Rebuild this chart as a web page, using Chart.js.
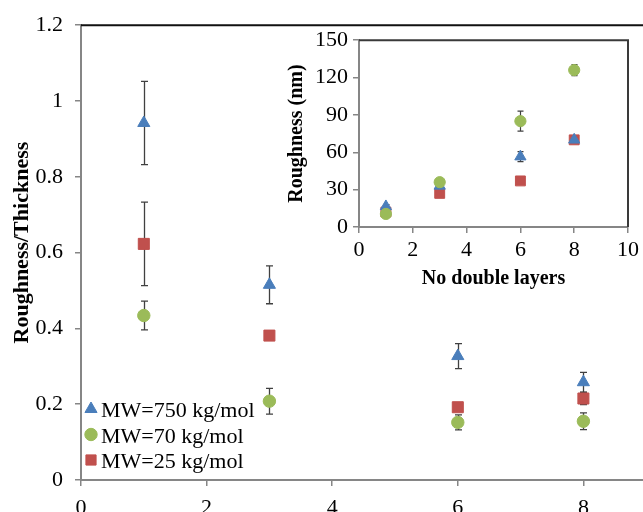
<!DOCTYPE html>
<html><head><meta charset="utf-8">
<script src="https://cdn.jsdelivr.net/npm/chart.js@4"></script>
<style>
html,body{margin:0;padding:0;overflow:hidden;background:#fff;width:643px;height:512px;}
#main{position:absolute;left:0;top:0;width:760px;height:560px;}
#inset{position:absolute;left:285px;top:22px;width:358px;height:280px;}
</style></head><body>
<canvas id="main" width="760" height="560"></canvas>
<canvas id="inset" width="358" height="280"></canvas>
<script>
// ---------- data ----------
const layers = [1, 3, 6, 8];
const seriesLabels = ['MW=750 kg/mol', 'MW=70 kg/mol', 'MW=25 kg/mol'];

// main chart: roughness / thickness
const ratio750 = [0.942, 0.515, 0.327, 0.258];
const ratioErr750 = [0.11, 0.05, 0.033, 0.026];
const ratio70 = [0.434, 0.208, 0.152, 0.155];
const ratioErr70 = [0.038, 0.034, 0.02, 0.022];
const ratio25 = [0.623, 0.381, 0.192, 0.215];
const ratioErr25 = [0.11, 0.006, 0.006, 0.016];

// inset: roughness (nm)
const rough750 = [16.5, 33, 56.5, 70];
const roughErr750 = [1.5, 2, 4, 1.5];
const rough70 = [10.5, 36, 85, 126];
const roughErr70 = [1, 1.5, 8, 4.5];
const rough25 = [12, 27, 37, 70];
const roughErr25 = [1, 1.5, 1.5, 1];

// tick labels
const mainXTicks = [0, 2, 4, 6, 8, 10];
const mainYTicks = [0, 0.2, 0.4, 0.6, 0.8, 1, 1.2];
const insetXTicks = [0, 2, 4, 6, 8, 10];
const insetYTicks = [0, 30, 60, 90, 120, 150];

// ---------- styles ----------
const SERIF = "'Liberation Serif', 'Times New Roman', serif";
const BLUE = '#4a7ebb', GREEN = '#9bbb59', RED = '#c0504d';
const styles = [
  {pointStyle: 'triangle', color: BLUE, order: 1},
  {pointStyle: 'circle', color: GREEN, order: 0},
  {pointStyle: 'rect', color: RED, order: 2}
];

function pts(ys) { return layers.map((x, i) => ({x: x, y: ys[i]})); }

function makeDatasets(valsList, errList, radii) {
  return valsList.map((vals, k) => ({
    label: seriesLabels[k],
    data: pts(vals),
    errors: errList[k],
    pointStyle: styles[k].pointStyle,
    backgroundColor: styles[k].color,
    borderColor: styles[k].color,
    borderWidth: 1,
    pointRadius: radii[k],
    pointHoverRadius: radii[k],
    order: styles[k].order,
    showLine: false
  }));
}

const errorBarPlugin = {
  id: 'errorBars',
  beforeDatasetsDraw(chart, args, opts) {
    const ctx = chart.ctx, ys = chart.scales.y;
    ctx.save();
    ctx.strokeStyle = opts.color || '#404040';
    ctx.lineWidth = opts.width || 1.3;
    chart.data.datasets.forEach((ds, di) => {
      const meta = chart.getDatasetMeta(di);
      meta.data.forEach((el, i) => {
        const e = ds.errors[i];
        if (!e) return;
        const v = ds.data[i].y;
        const x = Math.round(el.x) + 0.5;
        const yt = ys.getPixelForValue(v + e), yb = ys.getPixelForValue(v - e);
        const c = opts.cap || 3.5;
        ctx.beginPath();
        ctx.moveTo(x, yt); ctx.lineTo(x, yb);
        ctx.moveTo(x - c, yt); ctx.lineTo(x + c, yt);
        ctx.moveTo(x - c, yb); ctx.lineTo(x + c, yb);
        ctx.stroke();
      });
    });
    ctx.restore();
  }
};

const framePlugin = {
  id: 'frame',
  afterDatasetsDraw(chart, args, opts) {
    const {ctx, chartArea: a} = chart;
    ctx.save();
    ctx.strokeStyle = opts.color || '#000';
    ctx.lineWidth = opts.width || 2;
    ctx.beginPath();
    ctx.moveTo(a.left, a.top); ctx.lineTo(a.right, a.top); ctx.lineTo(a.right, a.bottom);
    ctx.stroke();
    ctx.restore();
  }
};

// rotated y-axis title placed at a fixed offset from the chart area
const yTitlePlugin = {
  id: 'yTitle',
  afterDraw(chart, args, opts) {
    if (!opts.text) return;
    const {ctx, chartArea: a} = chart;
    ctx.save();
    ctx.font = 'bold ' + opts.size + 'px ' + SERIF;
    ctx.fillStyle = '#000';
    ctx.textAlign = 'center';
    ctx.textBaseline = 'middle';
    ctx.translate(opts.x, (a.top + a.bottom) / 2 + opts.dy);
    ctx.rotate(-Math.PI / 2);
    ctx.fillText(opts.text, 0, 0);
    ctx.restore();
  }
};

const legendPlugin = {
  id: 'customLegend',
  afterDraw(chart, args, opts) {
    if (!opts.show) return;
    const ctx = chart.ctx;
    ctx.save();
    ctx.font = '22px ' + SERIF;
    ctx.textBaseline = 'alphabetic';
    ctx.textAlign = 'left';
    const rows = [0, 1, 2].map(k => chart.data.datasets.find(d => d.label === seriesLabels[k]));
    rows.forEach((ds, k) => {
      const base = opts.baseY + k * opts.step;
      ctx.fillStyle = ds.backgroundColor;
      ctx.strokeStyle = ds.borderColor;
      ctx.lineWidth = 1;
      Chart.helpers.drawPoint(ctx, {pointStyle: ds.pointStyle, radius: opts.radii[k], rotation: 0, borderWidth: 1}, opts.markerX, base - 8);
      ctx.fillStyle = '#000';
      ctx.fillText(ds.label, opts.textX, base);
    });
    ctx.restore();
  }
};

function scaleOpts(cfg) {
  return {
    type: 'linear',
    min: cfg.min, max: cfg.max,
    afterBuildTicks: s => { s.ticks = cfg.ticks.map(v => ({value: v})); },
    afterFit: s => { if (cfg.width !== undefined) s.width = cfg.width; if (cfg.height !== undefined) s.height = cfg.height; },
    grid: {display: true, drawOnChartArea: false, drawTicks: true, tickLength: 6, color: '#868686', lineWidth: 1.5},
    border: {display: true, color: '#868686', width: 2},
    ticks: {color: '#000', padding: cfg.pad, font: {family: SERIF, size: cfg.fontSize},
      callback: v => String(v)},
    title: cfg.title ? {display: true, text: cfg.title, color: '#000', padding: cfg.titlePad,
      font: {family: SERIF, size: cfg.titleSize, weight: 'bold'}} : {display: false}
  };
}

// ---------- main chart ----------
new Chart(document.getElementById('main'), {
  type: 'scatter',
  data: {datasets: makeDatasets([ratio750, ratio70, ratio25], [ratioErr750, ratioErr70, ratioErr25], [7, 6.2, 7.8])},
  options: {
    responsive: false, animation: false,
    layout: {padding: {left: 0, top: 21, right: 51, bottom: 0}},
    plugins: {
      legend: {display: false}, tooltip: {enabled: false},
      errorBars: {cap: 3.5, color: '#404040', width: 1.3},
      frame: {color: '#111', width: 2},
      yTitle: {text: 'Roughness/Thickness', size: 22, x: 22, dy: -10},
      customLegend: {show: true, markerX: 91, textX: 101, baseY: 417, step: 25.5, radii: [7, 6.2, 7.2]}
    },
    scales: {
      x: scaleOpts({min: 0, max: 10, ticks: mainXTicks, height: 80, pad: 9, fontSize: 22}),
      y: scaleOpts({min: 0, max: 1.2, ticks: mainYTicks, width: 81, pad: 12, fontSize: 22})
    }
  },
  plugins: [errorBarPlugin, framePlugin, legendPlugin, yTitlePlugin]
});

// ---------- inset chart ----------
new Chart(document.getElementById('inset'), {
  type: 'scatter',
  data: {datasets: makeDatasets([rough750, rough70, rough25], [roughErr750, roughErr70, roughErr25], [6.5, 5.6, 7])},
  options: {
    responsive: false, animation: false,
    layout: {padding: {left: 0, top: 12, right: 15, bottom: 0}},
    plugins: {
      legend: {display: false}, tooltip: {enabled: false},
      errorBars: {cap: 3, color: '#404040', width: 1.2},
      frame: {color: '#3a3a3a', width: 2},
      yTitle: {},
      customLegend: {show: false}
    },
    scales: {
      x: scaleOpts({min: 0, max: 10, ticks: insetXTicks, height: 75, pad: 4, fontSize: 22,
        title: 'No double layers', titleSize: 20, titlePad: {top: 0, bottom: 11}}),
      y: scaleOpts({min: 0, max: 150, ticks: insetYTicks, width: 74, pad: 5, fontSize: 22,
        title: 'Roughness (nm)', titleSize: 20, titlePad: {top: 0, bottom: 0}})
    }
  },
  plugins: [errorBarPlugin, framePlugin, legendPlugin, yTitlePlugin]
});
</script>
</body></html>
